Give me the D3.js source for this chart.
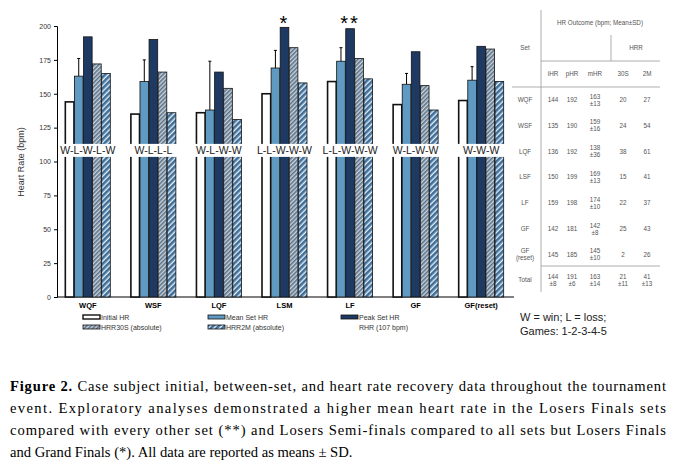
<!DOCTYPE html>
<html><head><meta charset="utf-8">
<script src="https://cdn.jsdelivr.net/npm/d3@7"></script>
<style>body{margin:0;background:#fff}</style>
</head><body>
<div id="chart"></div>
<script>
const sets = ['WQF','WSF','LQF','LSM','LF','GF','GF(reset)']
const games = ['W-L-W-L-W','W-L-L-L','W-L-W-W','L-L-W-W-W','L-L-W-W-W','W-L-W-W','W-W-W']
const initialHR = [144,135,136,150,159,142,145]
const meanHR = [163,159,138,169,174,157,160]
const meanSD = [13,16,36,13,10,8,10]
const peakHR = [192,190,166,199,198,181,185]
const hrr30 = [172,166,154,184,176,156,183]
const hrr2m = [165,136,131,158,161,138,159]
const stars = ['','','','*','**','','']
const yTicks = [0,25,50,75,100,125,150,175,200]
const series = ['Initial HR','Mean Set HR','Peak Set HR','HRR30S (absolute)','HRR2M (absolute)']

const tableRows = [
  ['WQF','144','192','163','±13','20','27'],
  ['WSF','135','190','159','±16','24','54'],
  ['LQF','136','192','138','±36','38','61'],
  ['LSF','150','199','169','±13','15','41'],
  ['LF','159','198','174','±10','22','37'],
  ['GF','142','181','142','±8','25','43'],
  ['GF\n(reset)','145','185','145','±10','2','26']
]
const totalRow = ['Total','144\n±8','191\n±6','163\n±14','21\n±11','41\n±13']

const svg = d3.select('#chart').append('svg').attr('width',680).attr('height',472)
  .style('font-family','Liberation Sans, Arial, sans-serif')

const defs = svg.append('defs')
const p1 = defs.append('pattern').attr('id','p30').attr('patternUnits','userSpaceOnUse')
  .attr('width',3).attr('height',3).attr('patternTransform','rotate(45)')
p1.append('rect').attr('width',3).attr('height',3).attr('fill','#c9d3dd')
p1.append('rect').attr('width',1.6).attr('height',3).attr('fill','#5d7388')
const p2 = defs.append('pattern').attr('id','p2m').attr('patternUnits','userSpaceOnUse')
  .attr('width',4).attr('height',4).attr('patternTransform','rotate(45)')
p2.append('rect').attr('width',4).attr('height',4).attr('fill','#e6eef5')
p2.append('rect').attr('width',2.6).attr('height',4).attr('fill','#3e6f9a')

const fills = ['#fff','#5f9ac2','#1f3a62','url(#p30)','url(#p2m)']
const strokeW = [1.6,0.8,0.8,0.8,0.8]

const x0 = d3.scaleBand().domain(sets).range([57,512]).paddingInner(0.3).paddingOuter(0.12)
const x1 = d3.scaleBand().domain(d3.range(5)).range([0,x0.bandwidth()]).padding(0.05)
const y = d3.scaleLinear().domain([0,200]).range([297,26])

svg.append('g').attr('transform','translate(57,0)')
  .call(d3.axisLeft(y).tickValues(yTicks).tickSize(3))
  .call(g => g.selectAll('text').attr('font-size',7).attr('fill','#333'))
svg.append('line').attr('x1',57).attr('x2',514).attr('y1',297).attr('y2',297).attr('stroke','#000')

svg.append('text').attr('transform','translate(24,162) rotate(-90)').attr('text-anchor','middle')
  .attr('font-size',9).attr('fill','#333').text('Heart Rate (bpm)')

const data = sets.map((s,i) => ({s, i, v:[initialHR[i],meanHR[i],peakHR[i],hrr30[i],hrr2m[i]]}))
const grp = svg.selectAll('g.set').data(data).enter().append('g')
  .attr('transform', d => `translate(${x0(d.s)},0)`)
grp.selectAll('rect').data(d => d.v).enter().append('rect')
  .attr('x',(d,k) => x1(k)).attr('width',x1.bandwidth())
  .attr('y', d => y(d)).attr('height', d => y(0) - y(d))
  .attr('fill',(d,k) => fills[k]).attr('stroke','#111').attr('stroke-width',(d,k) => strokeW[k])
grp.append('path').attr('d', d => {
  const cx = x1(1) + x1.bandwidth()/2
  return `M${cx},${y(d.v[1])}V${y(d.v[1]+meanSD[d.i])}M${cx-1.5},${y(d.v[1]+meanSD[d.i])}H${cx+1.5}`
}).attr('stroke','#000').attr('fill','none')
grp.append('rect').attr('x',-4).attr('width',x0.bandwidth()+8).attr('y',y(113)).attr('height',13).attr('fill','#fff')
grp.append('text').attr('x',x0.bandwidth()/2).attr('y',y(113)+10.5).attr('text-anchor','middle')
  .attr('font-size',10.5).attr('fill','#222').text((d,i) => games[i])
grp.append('text').attr('x',x0.bandwidth()/2).attr('y',30).attr('text-anchor','middle')
  .attr('font-size',20).attr('letter-spacing',2).text((d,i) => stars[i])
grp.append('text').attr('x',x0.bandwidth()/2).attr('y',308).attr('text-anchor','middle')
  .attr('font-size',7.5).attr('font-weight','bold').text(d => d.s)

const legPos = [[83,318],[208,318],[341,318],[83,328],[208,328]]
series.forEach((s,k) => {
  const [lx,ly] = legPos[k]
  svg.append('rect').attr('x',lx).attr('y',ly-3).attr('width',17).attr('height',4)
    .attr('fill',fills[k]).attr('stroke','#111').attr('stroke-width',k==0?1.4:0.8)
  svg.append('text').attr('x',lx+18).attr('y',ly+2).attr('font-size',7).attr('fill','#333').text(s)
})
svg.append('text').attr('x',359).attr('y',330).attr('font-size',7).attr('fill','#333').text('RHR (107 bpm)')

const t = svg.append('g').attr('font-size',6.3).attr('fill','#555')
const ln = (a,b,c,d) => t.append('line').attr('x1',a).attr('y1',b).attr('x2',c).attr('y2',d).attr('stroke','#999').attr('stroke-width',0.8)
ln(541,10,541,292); ln(541,61,660,61); ln(611,35,611,61); ln(512,87,660,87); ln(541,266,660,266)
t.append('text').attr('x',600).attr('y',25).attr('text-anchor','middle').text('HR Outcome (bpm; Mean±SD)')
t.append('text').attr('x',525).attr('y',50).attr('text-anchor','middle').text('Set')
t.append('text').attr('x',636).attr('y',50).attr('text-anchor','middle').text('HRR')
const colX = [525,553,572,595,623,647]
;['iHR','pHR','mHR','30S','2M'].forEach((h,j) => t.append('text').attr('x',colX[j+1]).attr('y',76).attr('text-anchor','middle').text(h))
const multi = (x,yc,str) => {
  const parts = str.split('\n')
  const tx = t.append('text').attr('text-anchor','middle')
  parts.forEach((p,k) => tx.append('tspan').attr('x',x).attr('y',yc + 2 + (k - (parts.length-1)/2)*7).text(p))
}
tableRows.forEach((r,i) => {
  const yc = 100 + i*25.8
  multi(colX[0],yc,r[0]); multi(colX[1],yc,r[1]); multi(colX[2],yc,r[2])
  multi(colX[3],yc,r[3]+'\n'+r[4]); multi(colX[4],yc,r[5]); multi(colX[5],yc,r[6])
})
totalRow.forEach((c,j) => multi(colX[j],280,c))

svg.append('text').attr('x',520).attr('y',321).attr('font-size',11).attr('fill','#222').text('W = win; L = loss;')
svg.append('text').attr('x',520).attr('y',335).attr('font-size',11).attr('fill','#222').text('Games: 1-2-3-4-5')

const cap = svg.append('g').attr('font-family','Liberation Serif, Times New Roman, serif').attr('font-size',14.6).attr('fill','#000')
const l1 = cap.append('text').attr('x',10).attr('y',391).attr('textLength',656).attr('lengthAdjust','spacing')
l1.append('tspan').attr('font-weight','bold').text('Figure 2.')
l1.append('tspan').text(' Case subject initial, between-set, and heart rate recovery data throughout the tournament')
cap.append('text').attr('x',10).attr('y',413).attr('textLength',656).attr('lengthAdjust','spacing')
  .text('event. Exploratory analyses demonstrated a higher mean heart rate in the Losers Finals sets')
cap.append('text').attr('x',10).attr('y',435).attr('textLength',656).attr('lengthAdjust','spacing')
  .text('compared with every other set (**) and Losers Semi-finals compared to all sets but Losers Finals')
cap.append('text').attr('x',10).attr('y',457).text('and Grand Finals (*). All data are reported as means ± SD.')
</script>
</body></html>
